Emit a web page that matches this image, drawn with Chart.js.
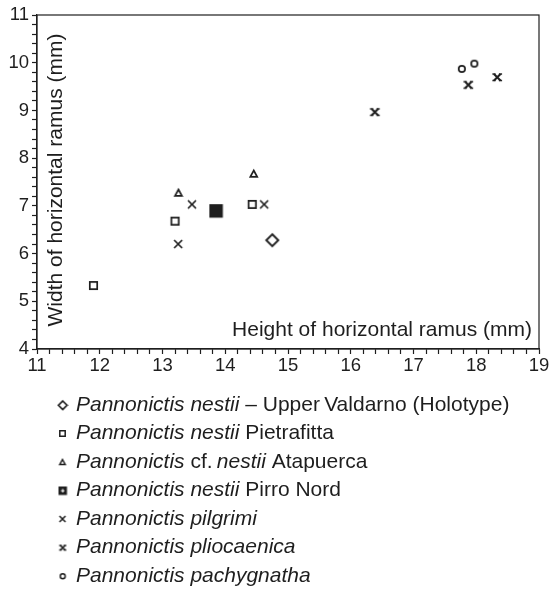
<!DOCTYPE html>
<html>
<head>
<meta charset="utf-8">
<script src="https://cdn.jsdelivr.net/npm/chart.js@4/dist/chart.umd.min.js"></script>
<style>
  html, body { margin: 0; padding: 0; background: #fff; }
  #wrap { width: 554px; height: 603px; }
</style>
</head>
<body>
<div id="wrap"><canvas id="chart"></canvas></div>
<script>
const valdarnoX = [14.75];
const valdarnoY = [6.28];
const pietrafittaX = [11.9, 13.2, 14.43];
const pietrafittaY = [5.33, 6.68, 7.03];
const atapuercaX = [13.25, 14.45];
const atapuercaY = [7.28, 7.68];
const pirroNordX = [13.85];
const pirroNordY = [6.9];
const pilgrimiX = [13.25, 13.47, 14.62];
const pilgrimiY = [6.2, 7.03, 7.03];
const pliocaenicaX = [16.38, 17.87, 18.33];
const pliocaenicaY = [8.97, 9.54, 9.7];
const pachygnathaX = [17.77, 17.97];
const pachygnathaY = [9.87, 9.98];

// legend labels, split into [text, italic] pieces
const legendLabels = [
  [['Pannonictis nestii', true], [' \u2013 Upper\u2009Valdarno (Holotype)', false]],
  [['Pannonictis nestii', true], [' Pietrafitta', false]],
  [['Pannonictis', true], [' cf.\u2009', false], ['nestii', true], [' Atapuerca', false]],
  [['Pannonictis nestii', true], [' Pirro Nord', false]],
  [['Pannonictis pilgrimi', true]],
  [['Pannonictis pliocaenica', true]],
  [['Pannonictis pachygnatha', true]]
];

const xAxisTitle = 'Height of horizontal ramus (mm)';
const yAxisTitle = 'Width of horizontal ramus (mm)';
const FONT = '"Liberation Sans", Arial, sans-serif';
const INK = '#1e1e1e';

// little canvases used as point styles
function marker(kind, s) {
  const pad = 2;
  const c = document.createElement('canvas');
  c.width = s + pad * 2; c.height = s + pad * 2;
  const g = c.getContext('2d');
  g.strokeStyle = INK; g.fillStyle = INK;
  g.lineWidth = s > 9 ? 1.9 : (s > 7 ? 1.7 : 1.5);
  const m = pad + s / 2, h = s / 2;
  g.beginPath();
  if (kind === 'diamond') {
    g.moveTo(m, m - h); g.lineTo(m + h, m); g.lineTo(m, m + h); g.lineTo(m - h, m); g.closePath(); g.stroke();
  } else if (kind === 'square') {
    g.rect(m - h + 0.8, m - h + 0.8, s - 1.6, s - 1.6); g.stroke();
  } else if (kind === 'triangle') {
    g.moveTo(m, m - h + 0.5); g.lineTo(m + h - 0.3, m + h - 0.6); g.lineTo(m - h + 0.3, m + h - 0.6); g.closePath(); g.stroke();
  } else if (kind === 'filled') {
    g.fillRect(m - h, m - h, s, s);
    if (s < 11) {
      g.strokeStyle = '#fff'; g.lineWidth = 1.2;
      g.moveTo(m - 1.8, m); g.lineTo(m + 1.8, m); g.moveTo(m, m - 1.8); g.lineTo(m, m + 1.8); g.stroke();
    }
  } else if (kind === 'cross') {
    g.moveTo(m - h, m - h); g.lineTo(m + h, m + h); g.moveTo(m + h, m - h); g.lineTo(m - h, m + h); g.stroke();
  } else if (kind === 'star') {
    // bold x with small serifs on the arm ends
    const k = h - 1, f = s > 7 ? 1.6 : 1.3;
    g.lineWidth = s > 7 ? 2.1 : 1.7;
    g.moveTo(m - k, m - k); g.lineTo(m + k, m + k); g.moveTo(m + k, m - k); g.lineTo(m - k, m + k);
    g.stroke();
    g.beginPath();
    g.lineWidth = 1.3;
    [[-1, -1], [1, -1], [-1, 1], [1, 1]].forEach(d => {
      g.moveTo(m + d[0] * k - f, m + d[1] * k); g.lineTo(m + d[0] * k + f, m + d[1] * k);
    });
    g.stroke();
  } else if (kind === 'circle') {
    g.arc(m, m, h - 0.8, 0, Math.PI * 2); g.stroke();
  }
  return c;
}

function pts(xs, ys) {
  return xs.map((x, i) => ({ x: x, y: ys[i] }));
}

const kinds = ['diamond', 'square', 'triangle', 'filled', 'cross', 'star', 'circle'];
const plotSizes = [12, 9, 7.5, 13.5, 8, 8.5, 8];
const legendSizes = [8.5, 7, 6, 8.5, 6, 6.5, 6.5];
const legendMarks = kinds.map((k, i) => marker(k, legendSizes[i]));

const seriesData = [
  pts(valdarnoX, valdarnoY),
  pts(pietrafittaX, pietrafittaY),
  pts(atapuercaX, atapuercaY),
  pts(pirroNordX, pirroNordY),
  pts(pilgrimiX, pilgrimiY),
  pts(pliocaenicaX, pliocaenicaY),
  pts(pachygnathaX, pachygnathaY)
];

const datasets = seriesData.map((d, i) => ({
  data: d,
  pointStyle: marker(kinds[i], plotSizes[i]),
  pointRadius: 6,
  pointHoverRadius: 6
}));

function isWhole(v) { return Math.abs(v - Math.round(v)) < 1e-6; }

// frame, axis titles inside the plot, and the legend under it
const decor = {
  id: 'decor',
  afterDraw(chart) {
    const ctx = chart.ctx, a = chart.chartArea;
    ctx.save();
    ctx.strokeStyle = INK; ctx.lineWidth = 1.2;
    ctx.strokeRect(a.left, a.top, a.right - a.left, a.bottom - a.top);

    ctx.fillStyle = INK;
    ctx.font = '21px ' + FONT;
    ctx.textAlign = 'right'; ctx.textBaseline = 'alphabetic';
    ctx.fillText(xAxisTitle, a.right - 7, a.bottom - 13);

    ctx.save();
    ctx.translate(a.left + 19, a.top + 165);
    ctx.rotate(-Math.PI / 2);
    ctx.textAlign = 'center'; ctx.textBaseline = 'middle';
    ctx.fillText(yAxisTitle, 0, 0);
    ctx.restore();

    ctx.textAlign = 'left'; ctx.textBaseline = 'middle';
    legendLabels.forEach((parts, i) => {
      const y = 405 + i * 28.5;
      const mk = legendMarks[i];
      ctx.drawImage(mk, 62.5 - mk.width / 2, y - mk.height / 2);
      let x = 76;
      parts.forEach(p => {
        ctx.font = (p[1] ? 'italic ' : '') + '21px ' + FONT;
        ctx.fillText(p[0], x, y);
        x += ctx.measureText(p[0]).width;
      });
    });
    ctx.restore();
  }
};

new Chart(document.getElementById('chart'), {
  type: 'scatter',
  data: { datasets: datasets },
  options: {
    responsive: true,
    maintainAspectRatio: false,
    animation: false,
    layout: { padding: { top: 15, right: 15, left: 0, bottom: 0 } },
    plugins: { legend: { display: false }, tooltip: { enabled: false } },
    scales: {
      x: {
        type: 'linear',
        min: 11, max: 19,
        afterFit(scale) { scale.height = 603 - 349; },
        border: { display: true, color: INK, width: 1.2 },
        grid: { drawOnChartArea: false, tickLength: 5, tickColor: INK, tickWidth: 1.2 },
        ticks: {
          stepSize: 0.2,
          autoSkip: false,
          maxRotation: 0,
          padding: 1,
          color: INK,
          font: { family: FONT, size: 18.5 },
          callback: v => isWhole(v) ? String(Math.round(v)) : ''
        }
      },
      y: {
        type: 'linear',
        min: 4, max: 11,
        afterFit(scale) { scale.width = 37; },
        border: { display: true, color: INK, width: 1.2 },
        grid: { drawOnChartArea: false, tickLength: 5, tickColor: INK, tickWidth: 1.2 },
        ticks: {
          stepSize: 0.2,
          autoSkip: false,
          padding: 3,
          color: INK,
          font: { family: FONT, size: 18.5 },
          callback: v => isWhole(v) ? String(Math.round(v)) : ''
        }
      }
    }
  },
  plugins: [decor]
});
</script>
</body>
</html>
